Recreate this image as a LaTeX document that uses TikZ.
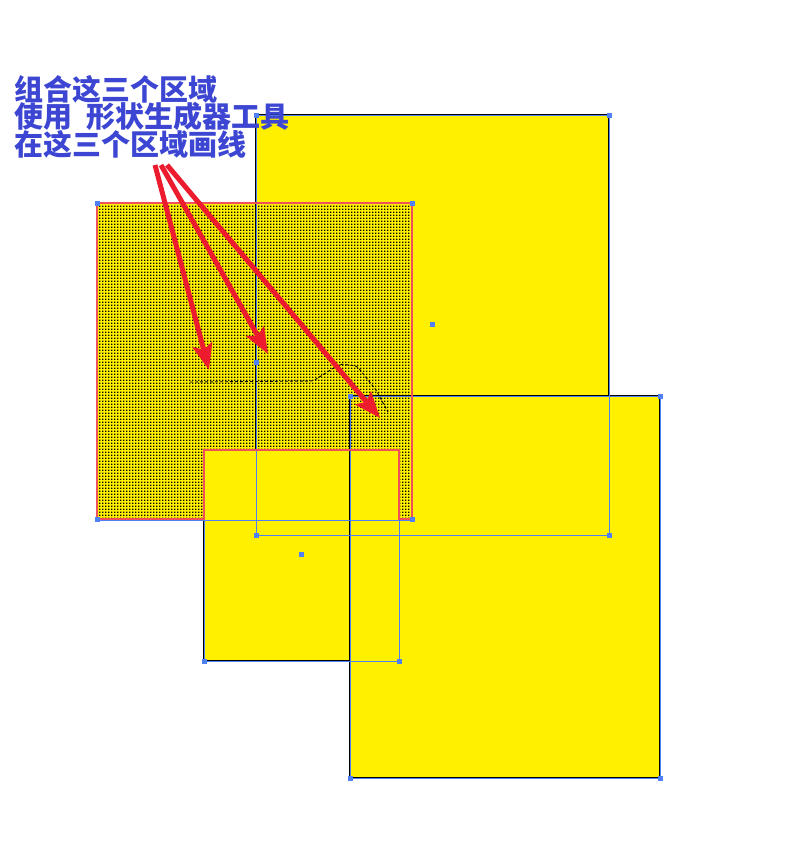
\documentclass[tikz,border=0pt]{standalone}
\usepackage{fontspec}
\newfontfamily\cjk{Noto Sans CJK SC}
\usetikzlibrary{arrows.meta,patterns.meta}
\definecolor{fillyellow}{RGB}{255,240,0}
\definecolor{selblue}{RGB}{80,128,245}
\definecolor{outred}{RGB}{240,80,90}
\definecolor{arrowred}{RGB}{236,28,46}
\definecolor{textblue}{RGB}{60,70,210}
\tikzdeclarepattern{
  name=griddots,
  type=uncolored,
  bottom left={(0pt,0pt)},
  top right={(3pt,3pt)},
  tile size={(3pt,3pt)},
  code={\fill (0pt,0pt) rectangle (1.9pt,1.9pt);}
}
\begin{document}
\begin{tikzpicture}[x=1pt,y=-1pt,
  sel/.style={selblue,line width=0.8pt},
  edge/.style={black,line width=1.6pt},
  handle/.style={fill=selblue,minimum size=5pt,inner sep=0pt},
  redarrow/.style={arrowred,line width=5pt,-{Stealth[length=26pt,width=20pt,inset=5pt]}},
  label/.style={anchor=base west,inner sep=0pt,text=textblue,font=\cjk\bfseries\fontsize{29}{29}\selectfont}]
\useasboundingbox (0,0) rectangle (802,852);
% yellow areas
\fill[fillyellow] (256,115) rectangle (609,535);
\fill[fillyellow] (350,396) rectangle (660,778);
\fill[fillyellow] (204,450) rectangle (399,661);
% dotted area left by the shape builder
\fill[fillyellow] (97,203) -- (412,203) -- (412,519) -- (399,519) -- (399,450)
  -- (204,450) -- (204,519) -- (97,519) -- cycle;
\fill[pattern=griddots,pattern color=black] (97,203) -- (412,203) -- (412,519)
  -- (399,519) -- (399,450) -- (204,450) -- (204,519) -- (97,519) -- cycle;
% black outlines
\draw[edge] (256,450) -- (256,115) -- (609,115) -- (609,396);
\draw[edge] (350,396) rectangle (660,778);
\draw[edge] (204,519) -- (204,661) -- (350,661);
% selection boxes
\draw[sel] (256,115) rectangle (609,535);
\draw[sel] (350,396) rectangle (660,778);
\draw[sel] (204,450) rectangle (399,661);
\draw[sel] (97,203) rectangle (412,520);
% red outline
\draw[outred,line width=2pt] (97,203) -- (412,203) -- (412,519) -- (399,519)
  -- (399,450) -- (204,450) -- (204,519) -- (97,519) -- cycle;
% handles
\foreach \p in {(256,115),(609,115),(256,535),(609,535),(432,324),
  (350,396),(660,396),(350,778),(660,778),
  (204,661),(399,661),(301,554),
  (97,203),(412,203),(97,519),(412,519),(256,362)}
  \node[handle] at \p {};
% drawn stroke
\draw[black,line width=0.9pt,dash pattern=on 3pt off 2pt,rounded corners=2pt]
  (190,382) -- (313,381) -- (340,364) -- (357,366) -- (376,390) -- (388,412);
% arrows
\coordinate (s1) at (155,165);
\coordinate (s2) at (161,165);
\coordinate (s3) at (167,165);
\coordinate (t1) at (209,370);
\coordinate (t2) at (268,354);
\coordinate (t3) at (380,418);
\draw[redarrow] (s1) -- (t1);
\draw[redarrow] (s2) -- (t2);
\draw[redarrow] (s3) -- (t3);
% text
\node[label] (l1) at (14,100) {组合这三个区域};
\node[label] (l2) at (14,127.5) {使用\enspace 形状生成器工具};
\node[label] (l3) at (14,155) {在这三个区域画线};
\end{tikzpicture}
\end{document}
